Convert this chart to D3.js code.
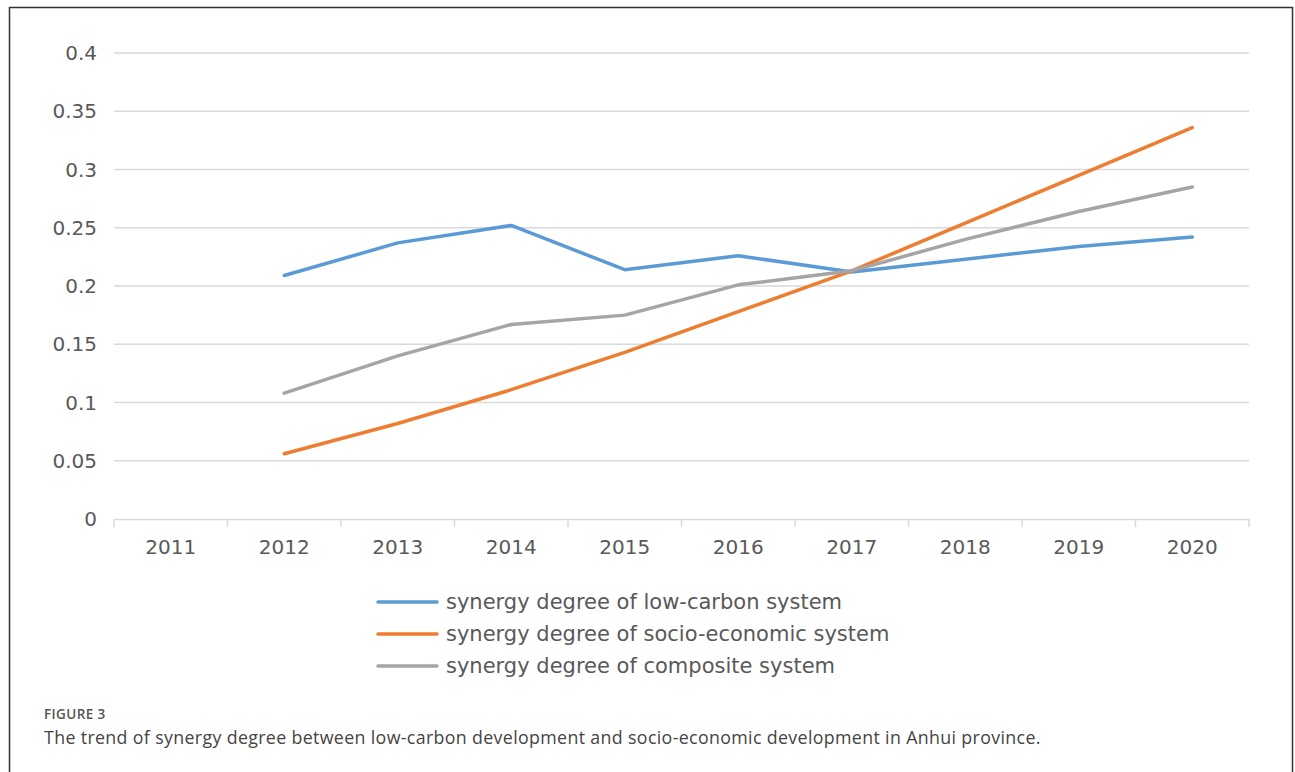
<!DOCTYPE html>
<html>
<head>
<meta charset="utf-8">
<script src="https://cdn.jsdelivr.net/npm/d3@7"></script>
<style>
  body { margin: 0; background: #fff; }
  svg { display: block; }
</style>
</head>
<body>
<div id="container"></div>
<script>
/* DATA */
const years = ["2011", "2012", "2013", "2014", "2015", "2016", "2017", "2018", "2019", "2020"]
const lowCarbon = [null, 0.209, 0.237, 0.252, 0.214, 0.226, 0.212, 0.223, 0.234, 0.242]
const socioEconomic = [null, 0.056, 0.082, 0.111, 0.143, 0.178, 0.213, 0.254, 0.295, 0.336]
const composite = [null, 0.108, 0.140, 0.167, 0.175, 0.201, 0.213, 0.240, 0.264, 0.285]
const yTicks = [0, 0.05, 0.1, 0.15, 0.2, 0.25, 0.3, 0.35, 0.4]
const seriesNames = [
    "synergy degree of low-carbon system",
    "synergy degree of socio-economic system",
    "synergy degree of composite system"
]
const seriesColors = ["#5b9bd5", "#ed7d31", "#a5a5a5"]

/* CONSTANTS */
const width = 1295,
    height = 772
const plot = { left: 114, right: 1249, top: 53, bottom: 519 }
const font = "'DejaVu Sans', Verdana, sans-serif"
const captionFont = "'Open Sans', Lato, sans-serif"

const svg = d3.select("#container")
    .append("svg")
    .attr("width", width)
    .attr("height", height)

// frame around figure
svg.append("rect")
    .attr("x", 9.5)
    .attr("y", 7.5)
    .attr("width", 1283)
    .attr("height", 800)
    .attr("fill", "none")
    .attr("stroke", "#333")
    .attr("stroke-width", 1.5)

// SCALES
const xScale = d3.scaleBand()
    .domain(years)
    .range([plot.left, plot.right])

const yScale = d3.scaleLinear()
    .domain([0, 0.4])
    .range([plot.bottom, plot.top])

// GRIDLINES
svg.append("g")
    .selectAll("line")
    .data(yTicks.filter(d => d > 0))
    .join("line")
    .attr("x1", plot.left)
    .attr("x2", plot.right)
    .attr("y1", d => yScale(d))
    .attr("y2", d => yScale(d))
    .attr("stroke", "#d9d9d9")
    .attr("stroke-width", 1.5)

// Y AXIS labels
svg.append("g")
    .selectAll("text")
    .data(yTicks)
    .join("text")
    .attr("x", 97)
    .attr("y", d => yScale(d))
    .attr("dy", "0.35em")
    .attr("text-anchor", "end")
    .attr("font-family", font)
    .attr("font-size", 20)
    .attr("fill", "#595959")
    .text(d => d)

// X AXIS
const xAxis = d3.axisBottom(xScale)
    .tickSize(0)
    .tickPadding(21)

const gx = svg.append("g")
    .attr("transform", "translate(0," + plot.bottom + ")")
    .call(xAxis)
gx.select(".domain")
    .attr("stroke", "#d9d9d9")
    .attr("stroke-width", 1.5)
gx.selectAll("text")
    .attr("font-family", font)
    .attr("font-size", 20)
    .attr("fill", "#595959")

// tick marks on band edges
const edges = years.map(d => xScale(d)).concat([plot.right])
gx.append("g")
    .selectAll("line")
    .data(edges)
    .join("line")
    .attr("x1", d => d)
    .attr("x2", d => d)
    .attr("y1", 0)
    .attr("y2", 8)
    .attr("stroke", "#d9d9d9")
    .attr("stroke-width", 1.5)

// LINES
const line = d3.line()
    .defined(d => d.v != null)
    .x(d => xScale(d.year) + xScale.bandwidth() / 2)
    .y(d => yScale(d.v))

const allSeries = [lowCarbon, socioEconomic, composite]
svg.append("g")
    .selectAll("path")
    .data(allSeries)
    .join("path")
    .attr("d", vals => line(vals.map((v, i) => ({ year: years[i], v: v }))))
    .attr("fill", "none")
    .attr("stroke", (d, i) => seriesColors[i])
    .attr("stroke-width", 3.5)
    .attr("stroke-linejoin", "round")
    .attr("stroke-linecap", "round")

// LEGEND
const legend = svg.append("g")
    .selectAll("g")
    .data(seriesNames)
    .join("g")
    .attr("transform", (d, i) => "translate(378," + (602 + i * 32) + ")")

legend.append("line")
    .attr("x1", 0)
    .attr("x2", 59)
    .attr("stroke", (d, i) => seriesColors[i])
    .attr("stroke-width", 3.5)
    .attr("stroke-linecap", "round")

legend.append("text")
    .attr("x", 68)
    .attr("dy", "0.35em")
    .attr("font-family", font)
    .attr("font-size", 21)
    .attr("fill", "#595959")
    .text(d => d)

// CAPTION
svg.append("text")
    .attr("x", 44)
    .attr("y", 719)
    .attr("font-family", captionFont)
    .attr("font-size", 13.5)
    .attr("font-weight", 600)
    .attr("letter-spacing", 0.4)
    .attr("fill", "#555")
    .text("FIGURE 3")

svg.append("text")
    .attr("x", 44)
    .attr("y", 744)
    .attr("font-family", captionFont)
    .attr("font-size", 17.8)
    .attr("letter-spacing", 0.35)
    .attr("fill", "#444")
    .text("The trend of synergy degree between low-carbon development and socio-economic development in Anhui province.")
</script>
</body>
</html>
